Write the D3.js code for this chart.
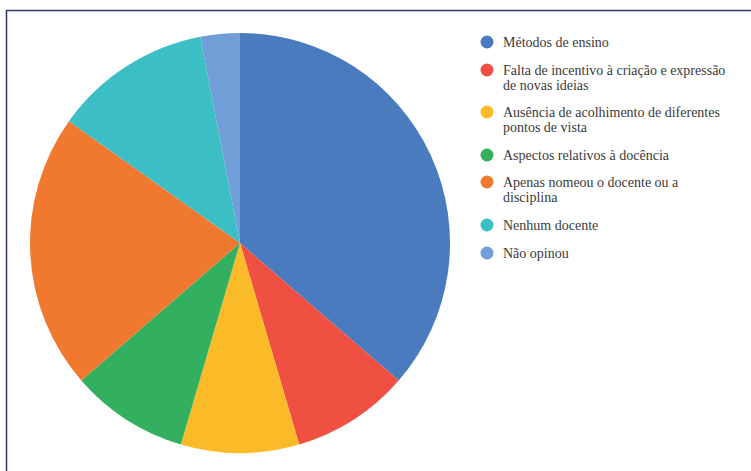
<!DOCTYPE html>
<html>
<head>
<meta charset="utf-8">
<script src="https://cdn.jsdelivr.net/npm/d3@7"></script>
<style>
  body { margin: 0; background: #fff; }
  svg { display: block; }
</style>
</head>
<body>
<div id="chart"></div>
<script>
// categories and counts
const categories = [
  "Métodos de ensino",
  "Falta de incentivo à criação e expressão de novas ideias",
  "Ausência de acolhimento de diferentes pontos de vista",
  "Aspectos relativos à docência",
  "Apenas nomeou o docente ou a disciplina",
  "Nenhum docente",
  "Não opinou"
];
// legend text split into lines, like in the picture
const legendLines = [
  ["Métodos de ensino"],
  ["Falta de incentivo à criação e expressão", "de novas ideias"],
  ["Ausência de acolhimento de diferentes", "pontos de vista"],
  ["Aspectos relativos à docência"],
  ["Apenas nomeou o docente ou a", "disciplina"],
  ["Nenhum docente"],
  ["Não opinou"]
];
const values = [12, 3, 3, 3, 7, 4, 1];
const colors = ["#4a7bbf", "#ef5041", "#fbba28", "#33b05f", "#f1792f", "#3cbfc4", "#6f9fd6"];

const width = 751, height = 471;
const svg = d3.select("#chart").append("svg")
  .attr("width", width)
  .attr("height", height);

// frame
svg.append("path")
  .attr("d", `M6.5,${height} L6.5,10.5 L${width},10.5`)
  .attr("fill", "none")
  .attr("stroke", "#2d3766")
  .attr("stroke-width", 1.5);

const color = d3.scaleOrdinal().domain(categories).range(colors);

const pie = d3.pie().sort(null).value(d => d.v);
const arc = d3.arc().innerRadius(0).outerRadius(210);

const data = categories.map((c, i) => ({c: c, v: values[i]}));

const g = svg.append("g").attr("transform", "translate(240,243)");
g.selectAll("path")
  .data(pie(data))
  .join("path")
  .attr("d", arc)
  .attr("fill", d => color(d.data.c));

// legend
const rowY = [42, 70, 112, 155, 182, 225, 253];
const leg = svg.append("g");
const item = leg.selectAll("g")
  .data(categories)
  .join("g")
  .attr("transform", (d, i) => `translate(487,${rowY[i]})`);

item.append("circle")
  .attr("r", 6.5)
  .attr("fill", d => color(d));

item.append("text")
  .attr("x", 16)
  .attr("y", 5)
  .style("font-family", "'Times New Roman', Times, 'Liberation Serif', serif")
  .style("font-size", "14px")
  .attr("fill", "#3a3a3a")
  .selectAll("tspan")
  .data((d, i) => legendLines[i])
  .join("tspan")
  .attr("x", 16)
  .attr("dy", (d, j) => j === 0 ? 0 : 15)
  .text(d => d);
</script>
</body>
</html>
